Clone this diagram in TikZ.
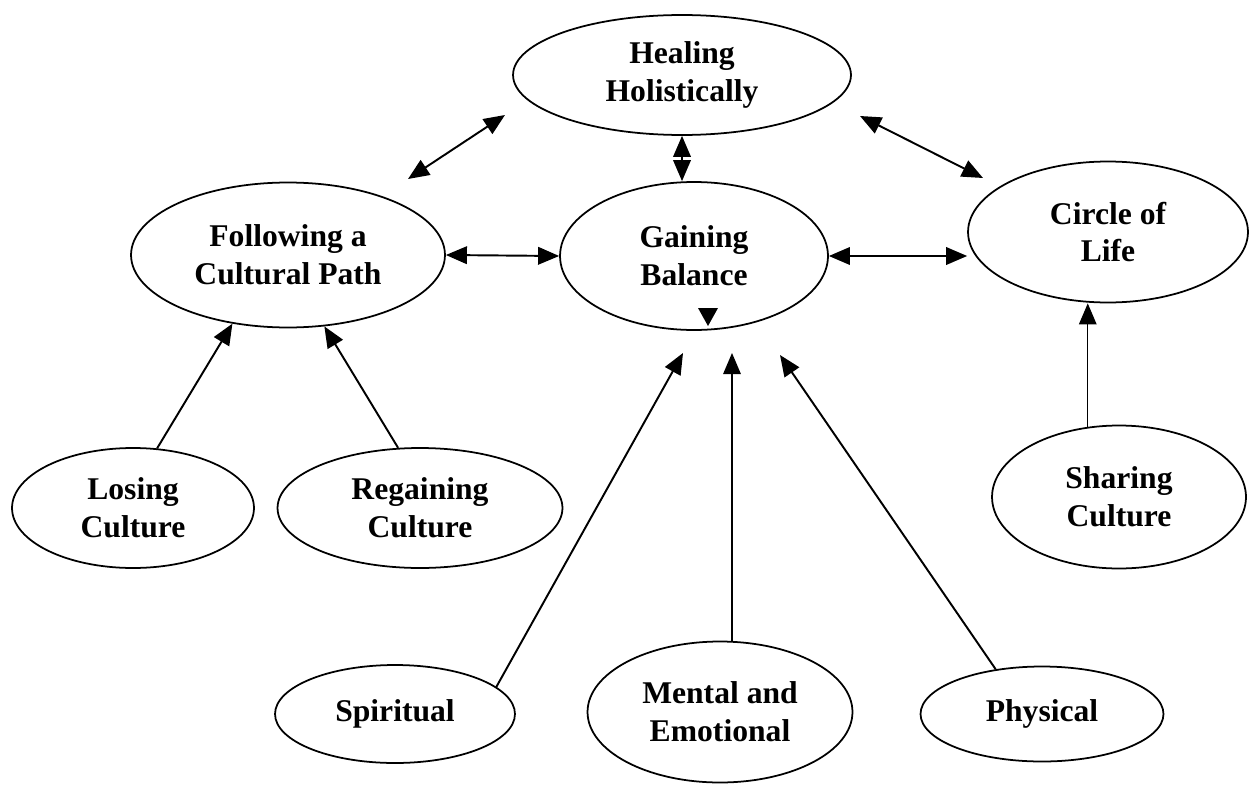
\documentclass[tikz,border=0pt]{standalone}
\usepackage{fontspec}
\setmainfont{Liberation Serif}
\usetikzlibrary{shapes.geometric, arrows.meta}

\begin{document}
\begin{tikzpicture}[x=0.02cm, y=-0.02cm,
    bubble/.style={ellipse, draw, line width=1pt, inner sep=0pt, align=center,
                   font=\bfseries\fontsize{18}{21.5}\selectfont},
    link/.style={-{Triangle[length=12pt, width=10pt]}, line width=1.1pt},
    twoway/.style={{Triangle[length=12pt, width=10pt]}-{Triangle[length=12pt, width=10pt]}, line width=1.1pt}]
  \useasboundingbox (0,0) rectangle (1250,784);

  % top and middle row
  \node[bubble, minimum width=6.76cm, minimum height=2.4cm] (heal) at (682,75) {Healing\\Holistically};
  \node[bubble, minimum width=6.28cm, minimum height=2.9cm] (follow) at (288,255) {Following a\\Cultural Path};
  \node[bubble, minimum width=5.36cm, minimum height=2.96cm] (gain) at (694,256) {Gaining\\Balance};
  \node[bubble, minimum width=5.6cm, minimum height=2.82cm] (circ) at (1108,232) {Circle of\\Life};

  % lower nodes
  \node[bubble, minimum width=4.84cm, minimum height=2.4cm] (lose) at (133,508) {Losing\\Culture};
  \node[bubble, minimum width=5.7cm, minimum height=2.4cm] (regain) at (420,508) {Regaining\\Culture};
  \node[bubble, minimum width=5.08cm, minimum height=2.86cm] (share) at (1119,497) {Sharing\\Culture};
  \node[bubble, minimum width=4.8cm, minimum height=1.96cm] (spirit) at (395,714) {Spiritual};
  \node[bubble, minimum width=5.3cm, minimum height=2.82cm] (mental) at (720,712) {Mental and\\Emotional};
  \node[bubble, minimum width=4.86cm, minimum height=1.9cm] (phys) at (1042,714) {Physical};

  % free arrow ends
  \coordinate (hfA) at (505,115);
  \coordinate (hfB) at (408,179);
  \coordinate (hcA) at (860,116);
  \coordinate (hcB) at (983,178);
  \coordinate (spTip) at (683,353);
  \coordinate (meTip) at (732,353);
  \coordinate (phTip) at (780,355);

  % two-way links
  \draw[twoway] (hfA) -- (hfB);
  \draw[twoway] (hcA) -- (hcB);
  \draw[twoway] (heal.south) -- (heal.south |- gain.north);
  \draw[twoway] (follow.east) -- (gain.west);
  \draw[twoway] (gain.east) -- (gain.east -| circ.west);

  % one-way links
  \draw[link] (lose.68) -- (follow.231);
  \draw[link] (regain.110) -- (follow.297);
  \draw[link, line width=0.8pt] (share.114) -- (share.114 |- circ.south);
  \draw[link] (spirit.15) -- (spTip);
  \draw[link, line width=0.8pt] (meTip |- mental.north) -- (meTip);
  \draw[link] (phys.136) -- (phTip);

  % mark inside Gaining Balance
  \fill (698,308) -- (718,308) -- (708,326) -- cycle;
\end{tikzpicture}
\end{document}
